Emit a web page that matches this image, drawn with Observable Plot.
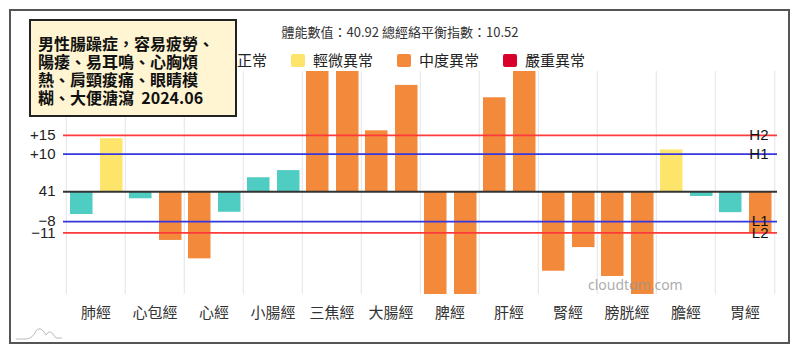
<!DOCTYPE html>
<html><head><meta charset="utf-8">
<script src="https://cdn.jsdelivr.net/npm/d3@7"></script>
<script src="https://cdn.jsdelivr.net/npm/@observablehq/plot@0.6"></script>
<style>
body{margin:0;background:#fff;font-family:"Noto Sans CJK TC","Noto Sans",sans-serif;}
#wrap{position:relative;width:800px;height:355px;overflow:hidden;background:#fff}
#chart{position:absolute;left:0;top:0}
#frame{position:absolute;left:9px;top:9px;width:781px;height:335px;box-sizing:border-box;border:2px solid #555;pointer-events:none}
#title{position:absolute;left:0;top:23px;width:800px;text-align:center;font-size:13px;color:#333;line-height:18px}
#legend{position:absolute;left:0;top:51px;width:800px;display:flex;justify-content:center;align-items:center;font-size:15px;color:#222;line-height:18px}
#legend .item{display:flex;align-items:center;margin:0 12px}
#legend .sw{width:14px;height:13px;border-radius:2px;margin-right:8px}
#note{position:absolute;left:29px;top:19px;width:208px;height:98px;box-sizing:border-box;border:2px solid #222;background:#fff5d2;padding:13px 0 0 7px;font-size:16px;font-weight:bold;line-height:18px;color:#111;white-space:nowrap}
#wm{position:absolute;left:588px;top:275px;font-size:14px;color:rgba(150,150,150,0.8);font-family:"Noto Sans","DejaVu Sans",sans-serif}
#logo{position:absolute;left:14px;top:326px}
</style></head><body>
<div id="wrap">
 <div id="chart"></div>
 <div id="frame"></div>
 <div id="title"></div>
 <div id="legend"></div>
 <div id="note"></div>
 <div id="wm">cloudtom.com</div>
 <svg id="logo" width="50" height="16"><path d="M2 13 H12 Q18 13 22 5 Q26 0 30 6 L32 9 Q35 4 38 7 L42 12 H48" fill="none" stroke="#bbb" stroke-width="1"/></svg>
</div>
<script>
const titleText = "體能數值：40.92 總經絡平衡指數：10.52";
const noteLines = ["男性腸躁症，容易疲勞、","陽痿、易耳鳴、心胸煩","熱、肩頸痠痛、眼睛模","糊、大便溏瀉\u00a0\u00a02024.06"];
const meridians = ["肺經","心包經","心經","小腸經","三焦經","大腸經","脾經","肝經","腎經","膀胱經","膽經","胃經"];
const leftValues = [-6.1,-1.9,-17.9,3.7,35,16.2,-30,25,-21.2,-22.6,11.1,-5.6];
const rightValues = [14.1,-13.0,-5.5,5.6,35,28.3,-30,35,-14.9,-30,-1.3,-11.2];
const leftLevels = ["正常","正常","中度異常","正常","中度異常","中度異常","中度異常","中度異常","中度異常","中度異常","輕微異常","正常"];
const rightLevels = ["輕微異常","中度異常","正常","正常","中度異常","中度異常","中度異常","中度異常","中度異常","中度異常","正常","中度異常"];
const levelNames = ["正常","輕微異常","中度異常","嚴重異常"];
const levelColors = ["#4fcdc3","#fde56c","#f38a3b","#d9002b"];
const refValues = [15,10,-8,-11];
const refNames = ["H2","H1","L1","L2"];
const refColors = ["#ff3a3a","#3636df","#3636df","#ff3a3a"];
const yTicks = [15,10,0,-8,-11];
const yTickLabels = ["+15","+10","41","−8","−11"];

document.getElementById("title").textContent = titleText;
document.getElementById("note").innerHTML = noteLines.join("<br>");
const lg = document.getElementById("legend");
levelNames.forEach((n,i)=>{
  const it = document.createElement("div"); it.className="item";
  const sw = document.createElement("div"); sw.className="sw"; sw.style.background=levelColors[i];
  const t = document.createElement("span"); t.textContent=n;
  it.appendChild(sw); it.appendChild(t); lg.appendChild(it);
});

const leftData = meridians.map((m,i)=>({m, v:leftValues[i], lvl:leftLevels[i]}));
const rightData = meridians.map((m,i)=>({m, v:rightValues[i], lvl:rightLevels[i]}));

const W = 800, mL = 63, mR = 23;
const bw = (W - mL - mR) / meridians.length;

const chart = Plot.plot({
  width: W, height: 355,
  marginLeft: mL, marginRight: mR, marginTop: 71, marginBottom: 61,
  style: {fontFamily: '"Noto Sans CJK TC", sans-serif', background: "transparent"},
  x: {domain: meridians, padding: 0, axis: null},
  y: {domain: [-27.4, 32], axis: null},
  color: {domain: levelNames, range: levelColors},
  marks: [
    Plot.ruleX(meridians, {x: d=>d, dx: -bw/2, stroke: "#e4e4e4", strokeWidth: 1}),
    Plot.ruleX([meridians[meridians.length-1]], {x: d=>d, dx: bw/2, stroke: "#e4e4e4", strokeWidth: 1}),
    Plot.barY(leftData, {x: "m", y: "v", fill: "lvl", insetLeft: 4, insetRight: bw-27, clip: true}),
    Plot.barY(rightData, {x: "m", y: "v", fill: "lvl", insetLeft: 34, insetRight: bw-57, clip: true}),
    ...refValues.map((v,i)=>Plot.ruleY([v], {stroke: refColors[i], strokeWidth: 1.8})),
    Plot.ruleY([0], {stroke: "#333", strokeWidth: 2}),
    Plot.text(refValues, {y: d=>d, text: (d,i)=>refNames[i], frameAnchor: "right", textAnchor: "end", dx: -9, fontSize: 15, fill: "#111", fontWeight: 500, fontFamily: '"Liberation Sans", sans-serif'}),
    Plot.axisY(yTicks, {tickSize: 0, tickPadding: 8, fontSize: 15, fill: "#222", tickFormat: d=>yTickLabels[yTicks.indexOf(d)], label: null, fontFamily: '"Liberation Sans", sans-serif'}),
    Plot.axisX({tickSize: 0, tickPadding: 13, fontSize: 15, fill: "#333", label: null})
  ]
});
document.getElementById("chart").appendChild(chart);
</script>
</body></html>
